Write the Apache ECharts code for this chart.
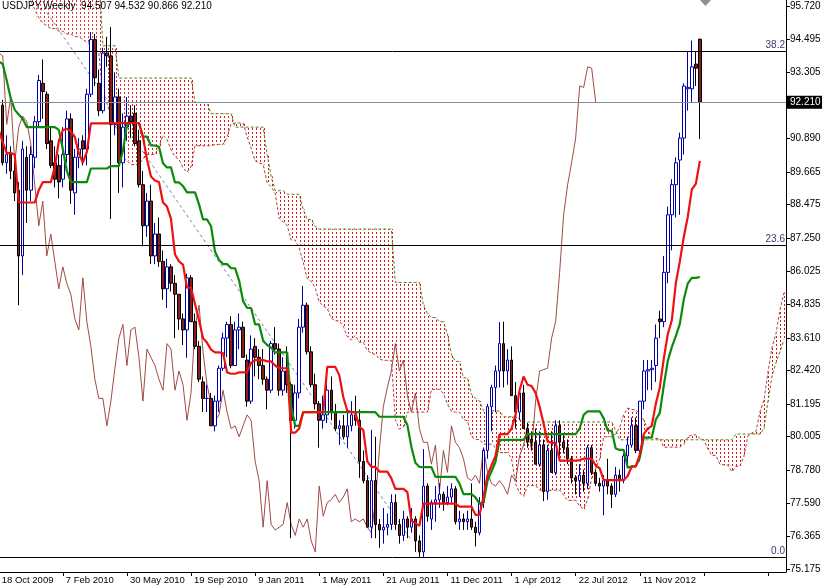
<!DOCTYPE html>
<html><head><meta charset="utf-8">
<script src="https://cdn.jsdelivr.net/npm/echarts@6/dist/echarts.min.js"></script>
<style>html,body{margin:0;padding:0;background:#fff}#c{width:822px;height:586px}</style>
</head><body><div id="c"></div>
<script>
// ---- tick labels ----
const xTickLabels = ['18 Oct 2009','7 Feb 2010','30 May 2010','19 Sep 2010','9 Jan 2011','1 May 2011','21 Aug 2011','11 Dec 2011','1 Apr 2012','22 Jul 2012','11 Nov 2012'];
const yTickValues = [95.720,94.495,93.305,90.890,89.665,88.475,87.250,86.025,84.835,83.610,82.420,81.195,80.005,78.780,77.590,76.365,75.175];
const titleText = 'USDJPY,Weekly  94.507 94.532 90.866 92.210';

// ---- weekly OHLC (bar 0 = 18 Oct 2009) ----
const open = [90.9,92.1,90.0,90.3,89.7,89.0,86.6,90.2,89.0,90.2,
91.5,92.9,92.5,90.8,90.0,89.9,89.4,90.3,91.6,88.9,
90.2,90.8,90.5,92.5,94.5,92.9,91.9,94.0,93.9,91.4,
92.4,90.0,91.3,91.7,91.8,90.8,89.2,87.7,88.6,86.6,
87.4,86.4,85.4,86.2,85.6,85.2,84.3,83.9,85.8,84.2,
83.3,82.0,81.4,81.4,80.4,81.3,82.5,83.6,84.1,82.6,
83.9,84.0,82.8,81.3,83.3,82.9,82.6,82.1,81.7,83.4,
83.2,81.7,82.4,81.9,80.6,81.6,84.0,84.8,83.1,81.9,
81.2,80.6,80.8,81.7,80.9,80.3,80.4,80.0,80.4,80.8,
80.6,79.1,78.4,76.7,78.4,76.8,76.6,76.7,76.8,77.6,
76.8,76.4,77.0,76.7,77.0,76.2,75.8,78.2,77.0,77.6,
77.7,77.9,77.6,77.8,78.1,76.9,77.0,76.9,77.0,76.7,
76.5,77.6,79.5,81.1,81.8,82.4,83.4,82.4,82.8,81.5,
80.9,81.6,80.3,79.9,79.8,79.0,79.7,78.0,79.5,78.7,
80.4,79.8,79.6,79.2,78.5,78.4,78.6,78.3,79.6,78.7,
78.3,78.2,78.4,78.2,77.9,78.6,78.4,79.3,79.7,80.4,
79.5,81.3,82.4,82.45,82.6,84.3,84.2,86.0,88.1,89.2,
90.1,90.9,92.7,92.7,93.6,94.507];
const high = [92.3,92.3,91.0,90.6,90.0,89.3,90.8,90.6,90.6,91.7,
93.2,93.77,92.6,91.3,90.6,90.3,91.3,91.9,91.8,90.5,
90.9,91.0,92.7,94.77,94.7,93.4,94.2,94.6,94.95,93.3,
92.7,91.8,92.4,92.1,92.1,91.2,89.7,88.9,89.2,87.8,
88.0,86.8,86.5,86.3,85.9,85.2,84.5,85.95,85.9,84.5,
83.5,82.2,81.9,81.6,81.5,82.6,83.8,84.2,84.4,84.2,
84.5,84.2,83.0,83.7,83.6,83.2,83.2,82.2,83.5,84.0,
83.4,82.9,83.3,82.0,81.9,84.3,85.5,84.9,83.3,82.3,
81.3,81.5,82.0,82.2,81.2,80.6,80.8,80.9,81.3,81.5,
81.0,79.5,78.6,80.25,80.0,77.0,77.4,77.2,77.9,77.9,
77.0,77.3,77.1,77.4,77.1,76.4,79.55,78.3,77.7,78.2,
78.3,78.0,78.2,78.3,78.2,77.3,77.2,77.3,78.3,76.9,
77.8,79.6,81.2,81.9,82.6,84.18,84.2,83.2,83.3,82.0,
81.8,81.9,80.5,80.2,80.3,80.2,79.9,79.7,80.2,80.6,
80.6,80.1,79.9,79.3,78.6,79.0,78.8,79.7,79.7,78.8,
78.5,78.6,79.2,78.3,78.9,78.8,79.4,80.0,80.7,80.7,
81.3,82.8,82.8,82.8,84.1,84.6,86.6,88.4,89.4,90.2,
91.1,92.9,94.07,94.46,94.05,94.532];
const low = [90.6,89.9,89.6,89.4,88.6,84.8,85.9,87.8,88.6,89.8,
91.3,91.6,90.5,89.8,89.1,88.7,89.1,90.0,88.5,88.1,
89.8,89.9,89.9,92.4,92.8,91.7,91.8,93.5,87.95,91.0,
88.9,89.1,90.8,90.9,90.6,89.1,86.95,87.3,86.3,86.3,
86.2,85.0,84.7,85.3,83.6,83.9,83.35,82.88,84.2,83.2,
82.0,80.9,80.9,80.4,80.2,80.9,82.4,82.9,82.5,82.6,
83.2,82.9,81.1,81.2,82.2,82.1,81.9,81.0,81.6,83.0,
81.5,81.5,81.6,76.3,80.3,81.4,83.8,83.0,81.8,81.0,
79.6,80.3,80.5,80.6,80.2,79.7,79.9,79.6,80.2,80.4,
78.5,78.3,76.7,76.3,76.3,75.95,76.1,76.4,76.6,76.6,
76.1,76.2,76.3,76.5,75.8,75.6,75.57,76.9,76.6,76.9,
77.4,77.3,77.5,77.6,76.8,76.6,76.6,76.6,76.6,76.0,
76.4,77.4,79.2,80.2,80.9,81.8,81.8,81.9,81.5,80.3,
80.6,80.3,79.6,79.5,79.0,78.9,77.65,77.7,78.7,78.6,
79.3,79.4,79.0,78.3,77.9,77.8,78.0,78.1,78.6,78.2,
78.0,77.13,77.9,77.4,77.8,78.0,78.3,79.0,79.6,79.4,
79.1,81.0,81.7,81.7,82.0,83.6,84.0,85.6,86.8,88.0,
88.1,90.3,91.9,92.2,92.8,90.866];
const close = [92.1,90.0,90.3,89.7,88.9,86.6,90.5,89.0,90.3,91.5,
93.0,92.6,90.7,89.9,89.4,89.3,90.3,91.6,89.0,90.2,
90.5,90.5,92.5,94.5,93.1,91.9,94.0,93.9,91.4,92.4,
90.0,91.3,91.7,91.5,90.7,89.2,87.7,88.6,86.6,87.4,
86.4,85.4,86.2,85.6,85.2,84.3,83.9,85.8,84.2,83.3,
82.1,81.4,81.4,80.4,81.3,82.5,83.6,84.1,82.6,83.9,
84.0,82.9,81.3,83.2,82.9,82.6,82.1,81.7,83.4,83.2,
81.7,82.4,81.9,80.6,81.6,84.0,84.8,83.1,81.9,81.2,
80.6,80.8,81.7,80.9,80.3,80.4,80.0,80.4,80.8,80.6,
79.1,78.4,76.7,78.4,76.8,76.6,76.7,76.8,77.6,76.8,
76.4,77.0,76.7,77.0,76.2,75.8,78.2,77.1,77.6,77.7,
77.9,77.6,77.8,78.1,76.9,77.0,76.9,77.0,76.7,76.5,
77.6,79.5,81.1,81.8,82.4,83.4,82.4,82.8,81.5,80.9,
81.6,80.3,79.8,79.8,79.0,79.7,78.0,79.5,78.7,80.4,
79.8,79.6,79.2,78.5,78.4,78.6,78.3,79.6,78.7,78.3,
78.2,78.4,78.2,77.9,78.6,78.4,79.3,79.7,80.4,79.5,
81.3,82.4,82.45,82.5,83.6,84.2,86.0,88.1,89.2,90.0,
90.9,92.8,92.75,93.5,93.45,92.21];

// ---- Ichimoku lines ----
const tenkan = [91.2,90.75,90.35,90.35,90.3,88.55,88.55,88.55,88.55,88.55,
89.0,89.29,89.29,89.29,89.84,90.79,91.19,91.24,91.14,90.94,
90.35,90.0,90.4,91.44,91.44,91.44,91.44,91.44,91.45,91.45,
91.45,91.45,91.45,91.45,91.45,91.45,90.95,90.13,89.5,89.35,
89.3,88.55,88.4,87.95,86.65,86.4,86.28,85.44,85.44,84.84,
84.25,83.6,83.43,83.18,83.08,83.08,83.05,82.35,82.3,82.3,
82.35,82.35,82.35,82.7,82.8,82.8,82.8,82.75,82.75,82.6,
82.5,82.5,82.5,80.15,80.15,80.3,80.9,80.9,80.9,80.9,
80.9,80.9,82.55,82.55,82.55,82.25,81.45,80.95,80.9,80.9,
80.35,80.25,79.1,78.9,78.9,78.73,78.73,78.73,78.48,78.1,
78.1,78.1,77.98,76.93,76.85,76.75,77.56,77.56,77.56,77.56,
77.56,77.56,77.56,77.56,77.56,77.45,77.45,77.45,77.45,77.15,
77.15,77.8,78.6,78.95,79.3,80.09,80.1,80.1,80.3,80.8,
81.7,82.2,81.9,81.85,81.6,81.1,80.48,79.83,79.78,79.78,
79.13,79.13,79.13,79.13,79.13,79.15,79.2,79.2,79.2,78.95,
78.85,78.42,78.42,78.42,78.42,78.42,78.42,78.57,78.92,78.92,
79.35,80.1,80.3,80.4,81.2,81.8,82.85,83.75,84.25,85.6,
86.4,87.3,88.04,89.03,89.23,90.07];
const kijun = [93.7,93.6,93.0,92.35,91.93,91.76,91.6,91.3,91.3,91.3,
91.3,91.3,91.3,91.3,91.3,91.2,90.5,89.7,89.29,89.29,
89.29,89.29,89.29,89.79,89.79,89.79,89.79,89.79,89.88,89.88,
89.88,90.43,91.38,91.45,91.45,91.45,90.95,90.95,90.63,90.63,
90.58,89.98,89.83,89.83,89.28,89.28,89.15,88.92,88.92,88.92,
88.48,87.93,87.93,87.68,86.75,86.45,86.3,86.3,86.15,86.15,
85.7,84.95,84.7,84.7,84.1,84.1,83.5,83.35,83.25,83.08,
83.08,83.08,83.08,81.1,80.4,80.4,80.9,80.9,80.9,80.9,
80.9,80.9,80.9,80.9,80.9,80.9,80.9,80.9,80.9,80.9,
80.9,80.9,80.9,80.9,80.9,80.73,80.73,80.73,80.73,80.73,
80.73,80.73,80.43,79.63,79.05,78.9,78.89,78.89,78.89,78.54,
78.54,78.54,78.54,78.54,78.54,78.29,77.91,77.91,77.91,77.79,
77.56,77.59,78.39,78.74,79.09,79.88,79.89,79.89,79.89,79.89,
79.89,79.89,80.1,80.1,80.1,80.1,80.1,80.1,80.1,80.1,
80.1,80.1,80.1,80.1,80.1,80.3,80.8,80.93,80.93,80.93,
80.93,80.67,80.22,80.22,79.57,79.52,79.52,78.87,78.92,78.92,
79.22,79.97,79.97,79.97,80.62,80.87,81.87,82.77,83.27,83.67,
84.12,85.02,85.6,85.8,85.8,85.83];
// cloud spans, indexed by chart position (already shifted 26 bars forward)
const spanA = [97.2,97.0,96.9,96.7,96.6,96.4,96.3,96.1,95.9,95.6,
95.3,95.1,95.0,94.9,94.9,94.8,94.8,94.7,94.7,94.6,
94.6,94.5,94.4,94.3,94.2,94.0,
92.45,92.18,91.68,91.35,91.12,90.16,90.08,89.93,89.93,89.93,
90.15,90.3,90.3,90.3,90.57,91.0,90.85,90.47,90.22,90.12,
89.82,89.65,89.85,90.62,90.62,90.62,90.62,90.62,90.67,90.67,
90.67,90.94,91.42,91.45,91.45,91.45,90.95,90.54,90.07,89.99,
89.94,89.27,89.12,88.89,87.97,87.84,87.72,87.18,87.18,86.88,
86.37,85.77,85.68,85.43,84.92,84.77,84.68,84.33,84.23,84.23,
84.03,83.65,83.53,83.7,83.45,83.45,83.15,83.05,83.0,82.84,
82.79,82.79,82.79,80.63,80.28,80.35,80.9,80.9,80.9,80.9,
80.9,80.9,81.73,81.73,81.73,81.58,81.18,80.93,80.9,80.9,
80.63,80.58,80.0,79.9,79.9,79.73,79.73,79.73,79.6,79.42,
79.42,79.42,79.2,78.28,77.95,77.83,78.22,78.22,78.22,78.05,
78.05,78.05,78.05,78.05,78.05,77.87,77.68,77.68,77.68,77.47,
77.36,77.7,78.5,78.85,79.2,79.99,80.0,80.0,80.1,80.35,
80.8,81.05,81.0,80.98,80.85,80.6,80.29,79.97,79.94,79.94,
79.62,79.62,79.62,79.62,79.62,79.73,80.0,80.07,80.07,79.94,
79.89,79.55,79.32,79.32,79.0,78.97,78.97,78.72,78.92,78.92,
79.29,80.04,80.14,80.19,80.91,81.34,82.36,83.26,83.76,84.64,
85.26];
const spanB = [97.0,97.0,97.0,97.0,97.0,97.0,97.0,97.0,97.0,97.0,
97.0,97.0,97.0,97.0,97.0,97.0,97.0,97.0,97.0,97.0,
97.0,97.0,97.0,97.0,97.0,97.0,
94.27,94.27,94.27,94.27,
93.09,93.09,93.09,93.09,93.09,93.09,93.09,93.09,93.09,93.09,
93.09,93.09,93.09,93.09,93.09,93.09,93.09,93.09,93.09,
92.2,92.2,92.2,92.2,
91.79,91.79,91.79,91.79,91.79,91.79,
91.3,91.3,91.3,91.3,91.3,91.3,91.3,91.3,
90.3,89.5,88.98,88.98,88.98,88.85,88.85,88.85,88.85,88.3,
87.93,87.93,87.68,87.58,87.58,87.58,87.58,87.58,87.58,87.58,
87.58,87.58,87.58,87.58,87.58,87.58,87.58,87.58,87.58,87.58,
87.58,87.58,85.63,85.63,85.63,85.63,85.63,85.63,85.63,84.8,
84.5,84.35,84.35,84.2,84.2,83.75,83.0,82.75,82.75,82.15,
82.15,81.55,81.4,81.3,80.95,80.95,80.95,80.95,80.93,80.73,
80.73,80.73,80.73,80.65,80.55,80.54,80.54,80.54,80.54,80.54,
80.54,80.54,80.54,80.54,80.54,80.54,80.54,80.54,80.54,80.54,
80.54,80.54,80.54,80.54,80.54,80.54,80.54,80.24,79.89,79.89,
79.89,79.89,79.89,79.89,79.89,79.89,79.89,79.89,79.89,79.89,
79.89,79.89,79.89,79.89,79.89,79.89,79.89,79.89,79.89,79.89,
79.89,79.89,79.89,79.89,79.89,79.89,79.89,80.1,80.1,80.1,
80.1,80.1,80.1,80.1,80.3,81.3,82.2,82.7,83.1,83.55];

// ---- drawn objects ----
const fibLevels = [94.08, 87.00, 75.61];
const fibLabels = ['38.2', '23.6', '0.0'];
const lastPrice = 92.210;
const trendLine = [[12, 95.48], [103, 76.23]];

const N = 197;
const CLOUD_RED = '#e01414';
const cats = Array.from({length: N}, (_, i) => String(i));
const candleData = open.map((o, i) => [o, close[i], low[i], high[i]]);
const chikou = close.slice(26);
const cloudData = spanA.map((a, p) => [p, a, spanB[p]]);
const FONT = 'Liberation Sans, Arial, sans-serif';

// dotted hatch pattern for the cloud (1x2 red dash in a 4x4 cell, on even pixel columns/rows)
const pc = document.createElement('canvas');
pc.width = 4; pc.height = 4;
const pg = pc.getContext('2d');
pg.fillStyle = CLOUD_RED;
pg.fillRect(0, 0, 1, 2);
const cloudPattern = {image: pc, repeat: 'repeat'};

const chart = echarts.init(document.getElementById('c'), null, {renderer: 'canvas'});
const fibMarks = fibLevels.map((v, k) => ({
  yAxis: v,
  lineStyle: {color: '#000', width: 1, type: 'solid'},
  label: {show: true, position: 'insideEndTop', formatter: fibLabels[k], color: '#3a3a6e', fontSize: 10, fontFamily: FONT, distance: [1, 1]}
}));
fibMarks.push({
  yAxis: lastPrice,
  lineStyle: {color: '#7d8da3', width: 1, type: 'solid'},
  label: {show: true, position: 'end', formatter: lastPrice.toFixed(3), color: '#fff', backgroundColor: '#000', padding: [2, 2, 1, 3], fontSize: 10, fontFamily: FONT, distance: 1}
});

chart.setOption({
  animation: false,
  backgroundColor: '#ffffff',
  textStyle: {fontFamily: FONT},
  title: {text: titleText, left: 2, top: 1, padding: 0, textStyle: {fontSize: 10, fontWeight: 'normal', color: '#000', fontFamily: FONT}},
  grid: {left: -3.3, right: 36, top: 0, bottom: 14, containLabel: false, outerBoundsMode: 'none'},
  xAxis: {
    type: 'category', data: cats, boundaryGap: true,
    axisLine: {show: true, lineStyle: {color: '#000', width: 1}},
    axisTick: {show: true, alignWithLabel: true, interval: (i) => i % 16 === 0, length: 4, lineStyle: {color: '#000'}},
    axisLabel: {interval: (i) => i % 16 === 0, formatter: (v, i) => xTickLabels[i / 16] || '', align: 'left', padding: [0, 0, 0, 3], margin: 3, color: '#000', fontSize: 9.5, fontFamily: FONT},
    splitLine: {show: false}
  },
  yAxis: {
    type: 'value', position: 'right', min: 75.065, max: 95.939, scale: true,
    axisLine: {show: true, lineStyle: {color: '#000', width: 1}},
    axisTick: {show: true, length: 4, customValues: yTickValues, lineStyle: {color: '#000'}},
    axisLabel: {customValues: yTickValues, formatter: (v) => v.toFixed(3), margin: 4, color: '#000', fontSize: 10, fontFamily: FONT},
    splitLine: {show: false}
  },
  graphic: [{type: 'polygon', shape: {points: [[700, 0], [711, 0], [705.5, 6]]}, style: {fill: '#8f8f8f'}, z: 100}],
  series: [
    {
      type: 'custom', name: 'cloud', data: cloudData, clip: true, z: 1, silent: true,
      encode: {x: 0, y: [1, 2]},
      renderItem: function (params, api) {
        const p = api.value(0);
        const pa = api.coord([p, api.value(1)]);
        const pb = api.coord([p, api.value(2)]);
        const w = api.size([1, 0])[0];
        const cs = params.coordSys;
        const top = Math.max(Math.min(pa[1], pb[1]), cs.y);
        const bot = Math.min(Math.max(pa[1], pb[1]), cs.y + cs.height);
        if (bot - top < 1) return null;
        return {type: 'rect', shape: {x: pa[0] - w / 2, y: top, width: w, height: bot - top}, style: {fill: cloudPattern, stroke: null}};
      }
    },
    {type: 'line', name: 'spanA', data: spanA, symbol: 'none', z: 2, lineStyle: {color: '#b0403a', width: 1, type: [3, 2]}},
    {type: 'line', name: 'spanB', data: spanB, symbol: 'none', z: 2, lineStyle: {color: '#5a7d22', width: 1, type: [3, 2]}},
    {type: 'line', name: 'chikou', data: chikou, symbol: 'none', z: 2, lineStyle: {color: '#a04a44', width: 1}},
    {type: 'line', name: 'trend', data: trendLine, symbol: 'none', z: 2, lineStyle: {color: '#7282aa', width: 1, type: [3, 3]}},
    {
      type: 'candlestick', name: 'USDJPY', data: candleData, barWidth: 3, z: 3,
      itemStyle: {color: '#ffffff', color0: '#8b1c1c', borderColor: '#0000a8', borderColor0: '#000000', borderWidth: 1},
      markLine: {symbol: ['none', 'none'], silent: true, animation: false, data: fibMarks}
    },
    {type: 'line', name: 'kijun', data: kijun, symbol: 'none', z: 4, lineStyle: {color: '#0b8a0b', width: 2.2}},
    {type: 'line', name: 'tenkan', data: tenkan, symbol: 'none', z: 5, lineStyle: {color: '#ee1111', width: 2.2}}
  ]
});
</script>
</body></html>
